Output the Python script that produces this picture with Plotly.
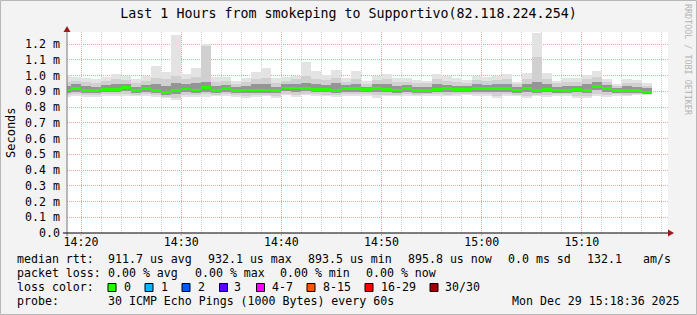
import pandas as pd
import plotly.graph_objects as go

# ---------------- data (ms) ----------------
start_minute = "2025-12-29 14:18:00"
ping_max = [1.003, 0.993, 0.984, 0.976, 0.990, 1.009, 0.997, 0.976, 1.000, 1.060,
            1.024, 1.257, 1.009, 1.050, 1.200, 0.993, 0.993, 0.965, 0.986, 1.022,
            1.050, 0.986, 0.993, 1.000, 1.088, 1.028, 1.003, 1.035, 0.986, 1.028,
            0.965, 1.000, 1.009, 0.982, 0.984, 0.970, 0.968, 1.009, 0.997, 0.982,
            0.972, 0.997, 0.993, 1.000, 1.009, 0.960, 1.014, 1.272, 1.018, 0.965,
            0.986, 0.982, 1.003, 1.028, 0.979, 0.946, 0.979, 0.972, 0.951]
ping_p90 = [0.960, 0.965, 0.958, 0.955, 0.965, 0.975, 0.970, 0.950, 0.965, 0.985,
            0.975, 1.000, 0.975, 0.990, 1.190, 0.960, 0.965, 0.945, 0.960, 0.980,
            0.985, 0.955, 0.965, 0.975, 1.000, 0.980, 0.970, 0.985, 0.960, 0.980,
            0.945, 0.970, 0.975, 0.960, 0.960, 0.950, 0.950, 0.975, 0.965, 0.960,
            0.955, 0.970, 0.965, 0.970, 0.975, 0.945, 0.975, 1.120, 0.980, 0.950,
            0.960, 0.960, 0.975, 0.990, 0.960, 0.935, 0.955, 0.950, 0.935]
ping_p75 = [0.935, 0.945, 0.935, 0.930, 0.940, 0.945, 0.945, 0.928, 0.940, 0.945,
            0.935, 0.950, 0.945, 0.950, 0.960, 0.935, 0.940, 0.925, 0.935, 0.945,
            0.945, 0.930, 0.945, 0.945, 0.955, 0.945, 0.940, 0.950, 0.940, 0.945,
            0.930, 0.945, 0.945, 0.935, 0.940, 0.930, 0.930, 0.945, 0.940, 0.935,
            0.935, 0.945, 0.940, 0.945, 0.945, 0.928, 0.945, 0.960, 0.945, 0.930,
            0.935, 0.935, 0.945, 0.960, 0.940, 0.922, 0.932, 0.930, 0.920]
median_rtt = [0.908, 0.918, 0.903, 0.903, 0.911, 0.911, 0.922, 0.905, 0.916, 0.905,
              0.893, 0.903, 0.914, 0.908, 0.922, 0.903, 0.917, 0.903, 0.908, 0.908,
              0.908, 0.905, 0.920, 0.920, 0.918, 0.910, 0.910, 0.903, 0.916, 0.916,
              0.911, 0.918, 0.910, 0.908, 0.918, 0.903, 0.903, 0.911, 0.916, 0.911,
              0.911, 0.916, 0.918, 0.916, 0.918, 0.908, 0.916, 0.905, 0.911, 0.908,
              0.903, 0.911, 0.903, 0.932, 0.916, 0.905, 0.905, 0.903, 0.896]
ping_p25 = [0.890, 0.897, 0.888, 0.888, 0.893, 0.893, 0.900, 0.890, 0.895, 0.888,
            0.878, 0.885, 0.895, 0.890, 0.898, 0.888, 0.898, 0.888, 0.888, 0.890,
            0.890, 0.888, 0.900, 0.898, 0.900, 0.893, 0.893, 0.888, 0.897, 0.897,
            0.895, 0.897, 0.893, 0.890, 0.898, 0.888, 0.888, 0.895, 0.897, 0.895,
            0.895, 0.897, 0.898, 0.895, 0.898, 0.890, 0.895, 0.890, 0.893, 0.890,
            0.888, 0.893, 0.888, 0.910, 0.897, 0.890, 0.890, 0.888, 0.885]
ping_p10 = [0.878, 0.882, 0.876, 0.876, 0.880, 0.880, 0.883, 0.878, 0.880, 0.874,
            0.865, 0.860, 0.878, 0.876, 0.880, 0.878, 0.882, 0.876, 0.872, 0.876,
            0.878, 0.872, 0.885, 0.878, 0.885, 0.880, 0.878, 0.876, 0.882, 0.880,
            0.882, 0.875, 0.878, 0.878, 0.882, 0.878, 0.880, 0.882, 0.878, 0.882,
            0.884, 0.880, 0.882, 0.872, 0.882, 0.878, 0.872, 0.878, 0.876, 0.880,
            0.880, 0.872, 0.868, 0.880, 0.876, 0.880, 0.878, 0.882, 0.882]
ping_min = [0.866, 0.873, 0.866, 0.866, 0.870, 0.870, 0.873, 0.870, 0.870, 0.866,
            0.855, 0.845, 0.866, 0.866, 0.866, 0.870, 0.873, 0.866, 0.860, 0.866,
            0.870, 0.860, 0.876, 0.866, 0.876, 0.873, 0.868, 0.866, 0.873, 0.870,
            0.873, 0.860, 0.868, 0.868, 0.873, 0.868, 0.873, 0.873, 0.868, 0.873,
            0.876, 0.870, 0.873, 0.860, 0.873, 0.870, 0.860, 0.870, 0.866, 0.873,
            0.873, 0.860, 0.855, 0.868, 0.866, 0.873, 0.870, 0.876, 0.876]

y_tickvals = [0.0, 0.1, 0.2, 0.3, 0.4, 0.5, 0.6, 0.7, 0.8, 0.9, 1.0, 1.1, 1.2]
y_ticktext = ["0.0", "0.1 m", "0.2 m", "0.3 m", "0.4 m", "0.5 m", "0.6 m",
              "0.7 m", "0.8 m", "0.9 m", "1.0 m", "1.1 m", "1.2 m"]
x_ticklabels = ["14:20", "14:30", "14:40", "14:50", "15:00", "15:10"]

loss_labels = ["0", "1", "2", "3", "4-7", "8-15", "16-29", "30/30"]
loss_colors = ["#26ff00", "#00b8ff", "#0059ff", "#5e00ff", "#ff00ff",
               "#ff5500", "#ff0000", "#a10000"]

title_text = "Last 1 Hours from smokeping to Supportivo(82.118.224.254)"

# ---------------- geometry ----------------
W, H = 697, 315
L, R, T, B = 67, 29, 32, 82
PW, PH = W - L - R, H - T - B


def px(x):
    return (x - L) / PW


def py(y):
    return (H - B - y) / PH


MONO = "DejaVu Sans Mono"
times = pd.date_range(start_minute, periods=len(median_rtt), freq="1min")
BARW = 60000

fig = go.Figure()


def band(lo, hi, color):
    fig.add_trace(go.Bar(
        x=times, base=lo, y=[h - l for h, l in zip(hi, lo)],
        width=BARW, offset=0, marker=dict(color=color, line=dict(width=0)),
        hoverinfo="skip", showlegend=False))


band(ping_min, ping_max, "#e3e3e3")
band(ping_p10, ping_p90, "#d0d0d0")
band(ping_p25, ping_p75, "#959595")
mthick = 0.017
band([m - mthick / 2 for m in median_rtt], [m + mthick / 2 for m in median_rtt], loss_colors[0])

xt = [pd.Timestamp("2025-12-29 " + t) for t in x_ticklabels]
minor_vals = list(pd.date_range("2025-12-29 14:20", "2025-12-29 15:18", freq="2min"))

fig.update_layout(
    width=W, height=H, autosize=False,
    margin=dict(l=L, r=R, t=T, b=B, pad=0),
    paper_bgcolor="#f3f3f3", plot_bgcolor="#ffffff",
    barmode="overlay", bargap=0,
    showlegend=False,
    font=dict(family=MONO, size=11.6, color="#000000"),
    title=dict(text=title_text, x=0.5, xref="paper", xanchor="center",
               y=1 - 13 / H, yref="container", yanchor="middle",
               font=dict(family=MONO, size=13.3, color="#000000")),
)
fig.update_layout(title_x=(W / 2 - L) / PW)

fig.update_xaxes(
    type="date",
    range=["2025-12-29 14:18:36", "2025-12-29 15:18:36"],
    tickmode="array", tickvals=xt, ticktext=x_ticklabels,
    showgrid=True, gridcolor="#eda3a3", griddash="1px,1px", gridwidth=1,
    minor=dict(tickvals=minor_vals, showgrid=True, gridcolor="#cfcfcf",
               griddash="1px,1px", gridwidth=1, ticks=""),
    ticks="", ticklabelstandoff=0,
    showline=False, zeroline=False,
    tickfont=dict(family=MONO, size=11.6, color="#000000"),
    fixedrange=True,
)
fig.update_yaxes(
    range=[0, (H - B - T) / 157.5],
    tickmode="array", tickvals=y_tickvals, ticktext=y_ticktext,
    showgrid=True, gridcolor="#eda3a3", griddash="1px,1px", gridwidth=1,
    ticks="", ticklabelstandoff=6,
    showline=False, zeroline=False,
    tickfont=dict(family=MONO, size=11.6, color="#000000"),
    fixedrange=True,
)

shapes = []
# outer frame
shapes.append(dict(type="rect", xref="paper", yref="paper",
                   x0=px(0.5), x1=px(W - 0.5), y0=py(H - 0.5), y1=py(0.5),
                   line=dict(color="#b8b8b8", width=1), layer="below"))
# y axis line and arrow
shapes.append(dict(type="line", xref="paper", yref="paper",
                   x0=px(67), x1=px(67), y0=py(236), y1=py(30),
                   line=dict(color="#777777", width=1)))
shapes.append(dict(type="path", xref="paper", yref="paper",
                   path=f"M {px(63.5)} {py(32)} L {px(70.5)} {py(32)} L {px(67)} {py(26)} Z",
                   fillcolor="#9b1c1c", line=dict(width=0)))
# x axis line and arrow
shapes.append(dict(type="line", xref="paper", yref="paper",
                   x0=px(63), x1=px(670), y0=py(233), y1=py(233),
                   line=dict(color="#000000", width=1)))
shapes.append(dict(type="path", xref="paper", yref="paper",
                   path=f"M {px(668)} {py(229.5)} L {px(668)} {py(236.5)} L {px(674)} {py(233)} Z",
                   fillcolor="#9b1c1c", line=dict(width=0)))
# small x tick marks below the axis
for t in xt:
    shapes.append(dict(type="line", xref="x", yref="paper",
                       x0=t, x1=t, y0=py(233), y1=py(235.5),
                       line=dict(color="#999999", width=1)))

annotations = []


def text(x, y, s, size=11.6, color="#000000", xanchor="left", angle=0):
    annotations.append(dict(xref="paper", yref="paper", x=px(x), y=py(y), text=s,
                            showarrow=False, xanchor=xanchor, yanchor="middle",
                            textangle=angle, borderpad=0,
                            font=dict(family=MONO, size=size, color=color)))


# y label
text(11, 133, "Seconds", size=12, xanchor="center", angle=-90)
# watermark
text(688, 60, "RRDTOOL / TOBI OETIKER", size=8.4, color="#b4b4b4", xanchor="center", angle=90)

# legend rows
r1, r2, r3, r4 = 259, 273, 287, 301
text(16, r1, "median rtt:")
text(107, r1, "911.7 us avg")
text(207, r1, "932.1 us max")
text(307, r1, "893.5 us min")
text(407, r1, "895.8 us now")
text(507, r1, "0.0 ms sd")
text(586, r1, "132.1")
text(642, r1, "am/s")

text(16, r2, "packet loss:")
text(107, r2, "0.00 % avg")
text(194, r2, "0.00 % max")
text(279, r2, "0.00 % min")
text(365, r2, "0.00 % now")

text(16, r3, "loss color:")
box_x = [108, 145, 182, 219.5, 256.5, 307, 365, 430]
lab_x = [122.5, 159.5, 196.5, 233.5, 270.5, 321.5, 379.5, 444]
for bx, lx, lab, col in zip(box_x, lab_x, loss_labels, loss_colors):
    shapes.append(dict(type="rect", xref="paper", yref="paper",
                       x0=px(bx), x1=px(bx + 8), y0=py(r3 + 4.5), y1=py(r3 - 3.5),
                       fillcolor=col, line=dict(color="#000000", width=1)))
    text(lx, r3, lab)

text(16, r4, "probe:")
text(107, r4, "30 ICMP Echo Pings (1000 Bytes) every 60s")
text(681, r4, "Mon Dec 29 15:18:36 2025", xanchor="right")

fig.update_layout(shapes=shapes, annotations=annotations)

fig.write_html("out.html", config={"displayModeBar": False})
